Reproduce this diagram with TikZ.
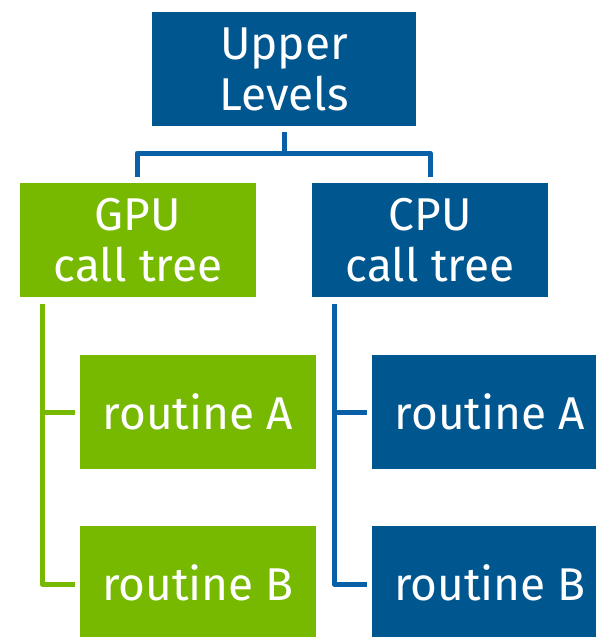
\documentclass[tikz,border=0pt]{standalone}
\usepackage{fontspec}
\setmainfont{Fira Sans}
\definecolor{nvgreen}{HTML}{76B900}
\definecolor{nvblue}{HTML}{00568F}
\definecolor{linkblue}{HTML}{0A60A6}
\begin{document}
\begin{tikzpicture}[x=1pt,y=-1pt,
  box/.style={anchor=north west, inner sep=0pt, outer sep=0pt,
    minimum width=236pt, minimum height=114pt,
    text=white, font=\fontsize{46}{51}\selectfont, align=center},
  greenbox/.style={box, fill=nvgreen},
  bluebox/.style={box, fill=nvblue},
  glink/.style={draw=nvgreen, line width=5pt, line cap=butt, line join=round},
  blink/.style={draw=linkblue, line width=5pt, line cap=butt, line join=round}]
\useasboundingbox (0,0) rectangle (595,637);
% boxes
\node[bluebox, minimum width=264pt] (upper) at (152,12) {Upper\\Levels};
\node[greenbox] (gpu) at (20,183) {GPU\\call tree};
\node[bluebox] (cpu) at (312,183) {CPU\\call tree};
\node[greenbox] (ga) at (80,355) {routine A};
\node[greenbox] (gb) at (80,526) {routine B};
\node[bluebox] (ca) at (372,355) {routine A};
\node[bluebox] (cb) at (372,526) {routine B};
% top-level connector
\coordinate (join) at (284,153);
\coordinate (gtop) at (137,177);
\coordinate (ctop) at (430,177);
\draw[blink] (upper.south |- 0,132) -- (join);
\draw[blink] (gtop) |- (join) -| (ctop);
% GPU call tree connectors
\coordinate (gstem) at (42,304);
\draw[glink] (gstem) |- ([xshift=-5pt]gb.west |- 0,584);
\draw[glink] (gstem |- 0,412) -- ([xshift=-5pt]ga.west |- 0,412);
% CPU call tree connectors
\coordinate (cstem) at (334,304);
\draw[blink] (cstem) |- ([xshift=-5pt]cb.west |- 0,584);
\draw[blink] (cstem |- 0,412) -- ([xshift=-5pt]ca.west |- 0,412);
\end{tikzpicture}
\end{document}
